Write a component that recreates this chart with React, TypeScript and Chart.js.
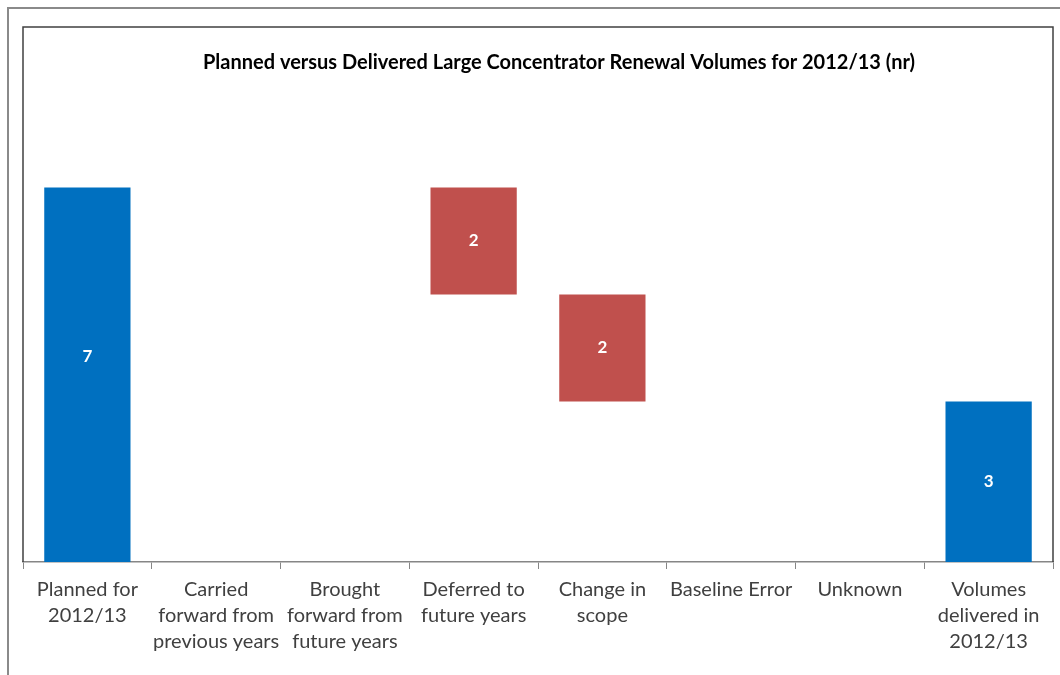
import React, { useEffect, useRef } from "react";
import { Chart, registerables } from "chart.js";

Chart.register(...registerables);

const TITLE = "Planned versus Delivered Large Concentrator Renewal Volumes for 2012/13 (nr)";
const categories: string[][] = [
  ["Planned for", "2012/13"],
  ["Carried", "forward from", "previous years"],
  ["Brought", "forward from", "future years"],
  ["Deferred to", "future years"],
  ["Change in", "scope"],
  ["Baseline Error"],
  ["Unknown"],
  ["Volumes", "delivered in", "2012/13"],
];
const barLows: (number | null)[] = [0, null, null, 5, 3, null, null, 0];
const barHighs: (number | null)[] = [7, null, null, 7, 5, null, null, 3];
const barLabels: string[] = ["7", "", "", "2", "2", "", "", "3"];
// value (in y units) at which each label sits, as in the source picture
const labelAt: (number | null)[] = [3.85, null, null, 6, 4, null, null, 1.5];
const barKinds: string[] = ["total", "none", "none", "decrease", "decrease", "none", "none", "total"];
const yMin = 0;
const yMax = 10;

const BLUE = "#0070C0";
const RED = "#C0504D";
const FONT = "Lato, 'Open Sans', sans-serif";

export default function App() {
  const ref = useRef<HTMLCanvasElement | null>(null);
  useEffect(() => {
    if (!ref.current) return;
    const data = barLows.map((lo, i) =>
      lo === null || barHighs[i] === null ? null : [lo, barHighs[i] as number]
    );
    const framePlugin = {
      id: "frame",
      beforeDatasetsDraw(chart: any) {
        const { ctx, chartArea: a } = chart;
        ctx.save();
        ctx.strokeStyle = "#404040";
        ctx.lineWidth = 1.5;
        ctx.beginPath();
        ctx.moveTo(a.left, a.bottom);
        ctx.lineTo(a.left, a.top);
        ctx.lineTo(a.right, a.top);
        ctx.lineTo(a.right, a.bottom);
        ctx.stroke();
        ctx.restore();
      },
      afterDraw(chart: any) {
        const { ctx, chartArea: a } = chart;
        ctx.save();
        ctx.fillStyle = "#000000";
        ctx.font = `bold 20px ${FONT}`;
        ctx.textAlign = "center";
        ctx.textBaseline = "middle";
        ctx.fillText(TITLE, (a.left + a.right) / 2 + 21, a.top + 36);
        // value labels
        const meta = chart.getDatasetMeta(0);
        const yScale = chart.scales.y;
        ctx.fillStyle = "#ffffff";
        ctx.font = `bold 17px ${FONT}`;
        meta.data.forEach((el: any, i: number) => {
          if (!barLabels[i]) return;
          const v = labelAt[i];
          const cy = v === null ? (el.y + el.base) / 2 : yScale.getPixelForValue(v);
          ctx.fillText(barLabels[i], el.x, cy);
        });
        ctx.restore();
      },
    };
    const chart = new Chart(ref.current, {
      type: "bar",
      data: {
        labels: categories,
        datasets: [
          {
            data: data as any,
            backgroundColor: barKinds.map((k) => (k === "decrease" ? RED : BLUE)),
            borderWidth: 0,
            categoryPercentage: 1,
            barPercentage: 0.67,
          },
        ],
      },
      options: {
        animation: false,
        responsive: false,
        maintainAspectRatio: false,
        layout: { padding: { left: 23, right: 7, top: 27, bottom: 0 } },
        plugins: {
          legend: { display: false },
          title: { display: false },
          tooltip: { enabled: false },
        },
        scales: {
          x: {
            grid: {
              display: true,
              drawOnChartArea: false,
              tickLength: 7,
              color: "#868686",
              offset: true,
            },
            border: { display: true, color: "#868686", width: 1.5 },
            ticks: {
              color: "#404040",
              font: { family: FONT, size: 20, lineHeight: 1.3 },
              padding: 8,
              maxRotation: 0,
              autoSkip: false,
            },
            afterFit(scale: any) {
              scale.height = 113;
            },
          },
          y: {
            display: false,
            min: yMin,
            max: yMax,
          },
        },
      },
      plugins: [framePlugin],
    });
    return () => chart.destroy();
  }, []);
  return (
    <div style={{ position: "fixed", left: 0, top: 0, width: 1060, height: 675, background: "#fff", overflow: "hidden" }}>
      <div
        style={{
          position: "absolute",
          left: 7,
          top: 7,
          width: 1100,
          height: 700,
          borderLeft: "2px solid #8a8a8a",
          borderTop: "2px solid #8a8a8a",
        }}
      />
      <canvas ref={ref} width={1060} height={675} style={{ position: "absolute", left: 0, top: 0, width: 1060, height: 675 }} />
    </div>
  );
}
